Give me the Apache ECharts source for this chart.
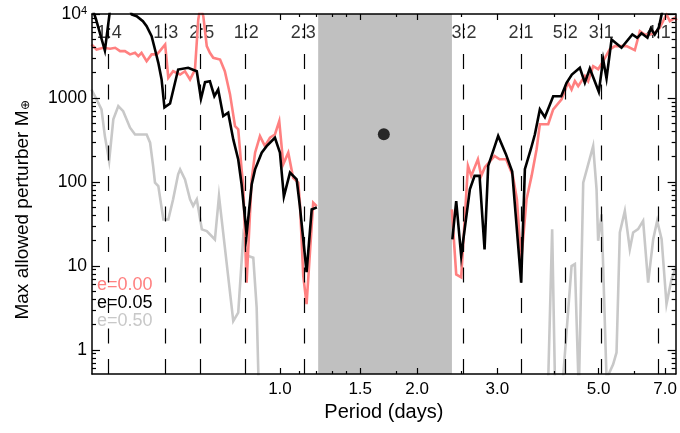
<!DOCTYPE html>
<html>
<head>
<meta charset="utf-8">
<script src="https://cdn.jsdelivr.net/npm/echarts@6/dist/echarts.min.js"></script>
<style>html,body{margin:0;padding:0;background:#fff}#c{width:680px;height:433px}</style>
</head>
<body>
<div id="c"></div>
<script>
// ---- data (period in days, max allowed perturber mass in Earth masses) ----
const periodE000Left = [0.386,0.396,0.410,0.424,0.435,0.446,0.457,0.469,0.481,0.489,0.497,0.510,0.523,0.537,0.545,0.560,0.569,0.583,0.604,0.619,0.635,0.651,0.662,0.669,0.679,0.691,0.702,0.714,0.739,0.757,0.777,0.797,0.810,0.824,0.831,0.845,0.867,0.882,0.904,0.927,0.951,0.975,0.9965,1.017,1.043,1.069,1.097,1.106,1.125,1.144,1.183,1.204];
const massE000Left   = [4330,3780,3960,3850,3960,3610,3610,3300,3450,3150,3450,2740,3300,3300,3610,4330,1740,2080,1900,2080,1660,2180,8600,12000,9420,4140,3450,3010,2870,2080,1110,462,422,141,89,6.3,107,223,351,267,336,367,530,163,223,112,98,56.5,7.6,3.5,56.5,51.5];
const periodE000Right = [2.383,2.436,2.498,2.585,2.628,2.718,2.764,2.816,2.957,3.033,3.135,3.243,3.310,3.382,3.475,3.565,3.656,3.717,3.877,3.976,4.148,4.254,4.287,4.362,4.436,4.511,4.665,4.744,4.865,4.989,5.117,5.293,5.428,5.567,5.758,6.004,6.16,6.316,6.477,6.64,6.81,7.047,7.166,7.35,7.42];
const massE000Right   = [47,7.9,7.3,155,118,186,118,150,204,186,186,118,62,11.3,62,118,245,487,487,730,960,1380,1517,1260,1585,1380,1830,1585,2390,2200,2750,3800,4140,4140,4140,3700,6240,5700,5700,5970,6850,9870,8210,9010,8400];

const periodE005Left = [0.387,0.395,0.413,0.424,0.446,0.460,0.473,0.485,0.5005,0.510,0.523,0.532,0.541,0.550,0.558,0.574,0.598,0.629,0.657,0.671,0.685,0.702,0.718,0.732,0.751,0.770,0.790,0.810,0.824,0.845,0.867,0.882,0.912,0.935,0.975,1.000,1.020,1.052,1.088,1.106,1.144,1.174,1.205];
const massE005Left   = [12000,8600,3670,11300,17000,15000,9870,9420,8210,7160,5450,3780,2620,1660,771,860,2180,2290,2080,978,1540,1580,1050,1260,607,667,321,185,93,23.7,93,141,223,267,336,223,67,129,107,51,8.4,47,49.7];
const periodE005Right = [2.389,2.436,2.498,2.610,2.673,2.741,2.811,2.863,3.011,3.131,3.232,3.382,3.446,3.551,3.624,3.717,3.812,3.976,4.140,4.254,4.369,4.549,4.665,4.784,5.006,5.117,5.205,5.339,5.614,5.93,6.08,6.21,6.40,6.51,6.64,6.78,6.88,6.99,7.09];
const massE005Right   = [20.7,59,13.1,81.5,118,118,15.7,155,353,214,133,6.3,142,245,367,730,589,1047,1047,1517,1900,2290,1517,2245,1185,2870,1710,4970,3960,5700,5210,5890,5210,6720,5700,6900,10100,14100,20000];

const periodE050Left = [0.386,0.396,0.406,0.413,0.422,0.431,0.442,0.453,0.469,0.481,0.510,0.519,0.527,0.532,0.541,0.555,0.569,0.583,0.598,0.604,0.619,0.635,0.645,0.657,0.674,0.691,0.720,0.735,0.790,0.810,0.831,0.852,0.874,0.889,0.899];
const massE050Left   = [1260,960,730,351,177,555,800,696,442,367,367,293,154,98,89,35.6,35.6,62,123,141,107,62,51.8,62,27.2,26,20.6,68,2.2,2.77,22.6,13.1,12.5,3.2,0.3];
const periodE050Right = [3.87,3.955,4.016,4.154,4.362,4.436,4.525,4.627,4.865,4.949,4.989,5.077,5.205,5.382,5.475,5.567,5.709,5.855,5.954,6.105,6.262,6.423,6.589,6.723,6.875,7.047,7.227,7.385];
const massE050Right   = [0.3,27.2,0.3,0.3,9.95,10.5,0.3,98,267,82,19.9,41,0.45,0.67,0.93,25,45,15.8,25,27.4,34.4,6.3,20.8,34.4,20.8,3.5,6.9,9.6];

const seriesNames = ['e=0.00','e=0.05','e=0.50'];
const resonanceLabels  = ['1:4','1:3','2:5','1:2','2:3','3:2','2:1','5:2','3:1','4:1'];
const resonancePeriods = [0.422,0.562,0.674,0.844,1.125,2.534,3.38,4.225,5.07,6.76];
const excludedBand = [1.213, 2.384];
const planetPeriod = [1.69];
const planetMass = [370];
const xTickValues = [1.0,1.5,2.0,3.0,5.0,7.0];
const xMinorTickValues = [1.1,1.2,1.3,1.4,1.8,2.5,4.0,6.0];
const yTickValues = [1,10,100,1000,10000];

// ---- chart ----
const FONT = "'Liberation Sans', Arial, Helvetica, sans-serif";
const X_MIN = 0.387, X_MAX = 7.38, Y_MIN = 0.515, Y_MAX = 10000;
const yMinorTickValues = [];
[0.1,1,10,100,1000].forEach(d => { for (let k = 2; k <= 9; k++) { const v = +(k*d).toPrecision(3); if (v >= Y_MIN && v <= Y_MAX) yMinorTickValues.push(v); } });

function pairs(p, m) { return p.map((v, i) => [v, m[i]]); }
function joined(pl, ml, pr, mr) { return pairs(pl, ml).concat([[1.7, '-']]).concat(pairs(pr, mr)); }

function xAx(pos, ticks, len, withLabels, withLine) {
  return {
    type: 'log', logBase: 10, min: X_MIN, max: X_MAX, position: pos, z: 10,
    axisLine: { show: withLine, onZero: false, lineStyle: { color: '#000', width: 1.5 } },
    axisTick: { show: true, inside: true, length: len, customValues: ticks, lineStyle: { color: '#000', width: 1.2 } },
    axisLabel: withLabels ? { show: true, customValues: ticks, margin: 7, color: '#000', fontSize: 17, fontFamily: FONT,
      formatter: v => Number(v).toFixed(1) } : { show: false },
    splitLine: { show: false }, minorTick: { show: false }
  };
}
function yAx(pos, ticks, len, withLabels, withLine) {
  return {
    type: 'log', logBase: 10, min: Y_MIN, max: Y_MAX, position: pos, z: 10,
    axisLine: { show: withLine, onZero: false, lineStyle: { color: '#000', width: 1.5 } },
    axisTick: { show: true, inside: true, length: len, customValues: ticks, lineStyle: { color: '#000', width: 1.2 } },
    axisLabel: withLabels ? { show: true, customValues: ticks, margin: 5, color: '#000', fontSize: 17.5, fontFamily: FONT,
      formatter: v => (Math.round(v) === 10000 ? '{b|10}{s|4}' : String(Math.round(v))),
      rich: { b: { fontSize: 17.5, fontFamily: FONT, color: '#000' }, s: { fontSize: 11, fontFamily: FONT, color: '#000', verticalAlign: 'top', padding: [0, 0, 6, 0] } } } : { show: false },
    splitLine: { show: false }, minorTick: { show: false }
  };
}

const xAxes = [xAx('bottom', xTickValues, 6, true, true), xAx('bottom', xMinorTickValues, 3, false, false),
               xAx('top', xTickValues, 6, false, true), xAx('top', xMinorTickValues, 3, false, false)];
xAxes[0].name = 'Period (days)';
xAxes[0].nameLocation = 'middle';
xAxes[0].nameGap = 27;
xAxes[0].nameTextStyle = { fontSize: 20, color: '#000', fontFamily: FONT };

const yAxes = [yAx('left', yTickValues, 8, true, true), yAx('left', yMinorTickValues, 4, false, false),
               yAx('right', yTickValues, 8, false, true), yAx('right', yMinorTickValues, 4, false, false)];
yAxes[0].name = 'Max allowed perturber M{sub|⊕}';
yAxes[0].nameLocation = 'middle';
yAxes[0].nameGap = 60;
yAxes[0].nameTextStyle = { fontSize: 19, color: '#000', fontFamily: FONT, padding: [0, 32, 0, 0],
  rich: { sub: { fontSize: 12, color: '#000', fontFamily: FONT, verticalAlign: 'bottom' } } };

const colors = ['#FF8080', '#000000', '#C8C8C8'];
const lineData = [
  joined(periodE000Left, massE000Left, periodE000Right, massE000Right),
  joined(periodE005Left, massE005Left, periodE005Right, massE005Right),
  joined(periodE050Left, massE050Left, periodE050Right, massE050Right)
];
const lineZ = [3, 4, 2];

const series = [
  { type: 'line', name: 'band', data: [], silent: true, z: 0,
    markArea: { silent: true, itemStyle: { color: '#C0C0C0' }, data: [[{ xAxis: excludedBand[0] }, { xAxis: excludedBand[1] }]] } },
  { type: 'scatter', name: 'resonances', silent: true, z: 1,
    data: resonancePeriods.map((p, i) => [p, 6000, resonanceLabels[i]]),
    symbolSize: 1, itemStyle: { color: 'transparent' },
    label: { show: true, position: 'inside', formatter: d => d.value[2], color: '#000', fontSize: 18, fontFamily: FONT },
    markLine: { silent: true, symbol: ['none', 'none'], label: { show: false },
      lineStyle: { type: [15, 15.5], color: '#000', width: 1.2 },
      data: resonancePeriods.map(p => ({ xAxis: p })) } }
];
seriesNames.forEach((n, i) => {
  series.push({ type: 'line', name: n, data: lineData[i], showSymbol: false, symbol: 'none', clip: true,
    connectNulls: false, z: lineZ[i], lineStyle: { color: colors[i], width: 2.6, join: 'miter' }, itemStyle: { color: colors[i] } });
});
series.push({ type: 'scatter', name: 'planet', data: planetPeriod.map((p, i) => [p, planetMass[i]]), symbolSize: 12,
  itemStyle: { color: '#000' }, z: 5, silent: true });

const chart = echarts.init(document.getElementById('c'), null, { renderer: 'canvas' });
chart.setOption({
  animation: false,
  backgroundColor: '#fff',
  grid: { left: 92, right: 4, top: 14, bottom: 59, containLabel: false },
  xAxis: xAxes,
  yAxis: yAxes,
  legend: { left: 92, top: 276, orient: 'vertical', itemGap: 0, itemWidth: 0, itemHeight: 0, padding: 0,
    selectedMode: false, icon: 'rect',
    textStyle: { fontSize: 18, fontFamily: FONT, lineHeight: 18 },
    data: seriesNames.map((n, i) => ({ name: n, textStyle: { color: colors[i] } })) },
  series: series
});
</script>
</body>
</html>
